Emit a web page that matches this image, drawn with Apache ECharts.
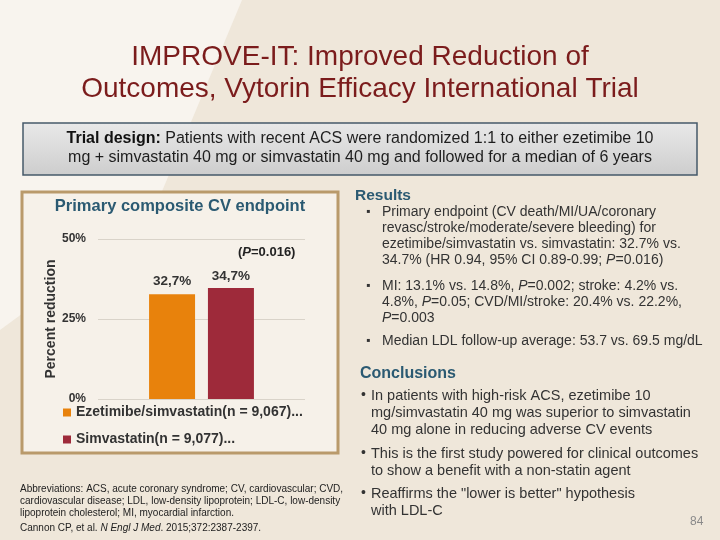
<!DOCTYPE html>
<html>
<head>
<meta charset="utf-8">
<script src="https://cdn.jsdelivr.net/npm/echarts@6/dist/echarts.min.js"></script>
<style>
html,body{margin:0;padding:0;background:#efe7da;}
#c{width:720px;height:540px;}
</style>
</head>
<body>
<div id="c"></div>
<script>
// ---- data ----
var categories = ['Primary composite CV endpoint'];
var seriesNames = ['Ezetimibe/simvastatin(n = 9,067)...', 'Simvastatin(n = 9,077)...'];
var ezetimibeValues = [32.7];
var simvastatinValues = [34.7];
var yTicks = [0, 25, 50];
var pValueText = '0.016';

var titleLines = 'IMPROVE-IT: Improved Reduction of\nOutcomes, Vytorin Efficacy International Trial';
var resultsBullets = [
  'Primary endpoint (CV death/MI/UA/coronary\nrevasc/stroke/moderate/severe bleeding) for\nezetimibe/simvastatin vs. simvastatin: 32.7% vs.\n34.7% (HR 0.94, 95% CI 0.89-0.99; {i|P}=0.016)',
  'MI: 13.1% vs. 14.8%, {i|P}=0.002; stroke: 4.2% vs.\n4.8%, {i|P}=0.05; CVD/MI/stroke: 20.4% vs. 22.2%,\n{i|P}=0.003',
  'Median LDL follow-up average: 53.7 vs. 69.5 mg/dL'
];
var conclusionBullets = [
  'In patients with high-risk ACS, ezetimibe 10\nmg/simvastatin 40 mg was superior to simvastatin\n40 mg alone in reducing adverse CV events',
  'This is the first study powered for clinical outcomes\nto show a benefit with a non-statin agent',
  'Reaffirms the "lower is better" hypothesis\nwith LDL-C'
];

var FONT = '"Liberation Sans", Arial, sans-serif';
var chart = echarts.init(document.getElementById('c'));

var graphics = [
  // background
  {type:'rect', z:-10, silent:true, shape:{x:0,y:0,width:720,height:540}, style:{fill:'#efe7da'}},
  {type:'polygon', z:-9, silent:true, shape:{points:[[0,0],[242,0],[150,220],[0,330]]}, style:{fill:'#f8f4ee'}},
  // title
  {type:'text', left:'center', top:41, style:{text:titleLines, font:'28px '+FONT, fill:'#7b1c1c', textAlign:'center', lineHeight:32}},
  // trial design box
  {type:'rect', z:-5, shape:{x:23,y:123,width:674,height:52}, style:{fill:new echarts.graphic.LinearGradient(0,0,0,1,[{offset:0,color:'#e9e9e9'},{offset:1,color:'#cdcdcd'}]), stroke:'#46596a', lineWidth:1.5}},
  {type:'text', x:360, y:129, style:{
    text:'{b|Trial design:} Patients with recent ACS were randomized 1:1 to either ezetimibe 10\nmg + simvastatin 40 mg or simvastatin 40 mg and followed for a median of 6 years',
    font:'16px '+FONT, fill:'#1e1e1e', align:'center', lineHeight:19,
    rich:{b:{fontWeight:'bold', fontSize:16, fontFamily:FONT, fill:'#111'}}
  }},
  // chart frame
  {type:'rect', z:-4, shape:{x:22,y:192,width:316,height:261}, style:{fill:'#f6f1e9', stroke:'#b99a6b', lineWidth:3}},
  {type:'text', x:180, y:198, style:{text:categories[0], font:'bold 16.5px '+FONT, fill:'#2b5a72', align:'center'}},
  {type:'text', x:238, y:246, style:{text:'({i|P}='+pValueText+')', font:'bold 13px '+FONT, fill:'#222', rich:{i:{fontStyle:'italic', fontWeight:'bold', fontSize:13, fontFamily:FONT, fill:'#222'}}}},
  // results
  {type:'text', x:355, y:188, style:{text:'Results', font:'bold 15.5px '+FONT, fill:'#2b5a72'}},
  // conclusions
  {type:'text', x:360, y:366, style:{text:'Conclusions', font:'bold 16px '+FONT, fill:'#2b5a72'}},
  // abbreviations
  {type:'text', x:20, y:483, style:{text:'Abbreviations: ACS, acute coronary syndrome; CV, cardiovascular; CVD,\ncardiovascular disease; LDL, low-density lipoprotein; LDL-C, low-density\nlipoprotein cholesterol; MI, myocardial infarction.', font:'10px '+FONT, fill:'#222', lineHeight:12}},
  {type:'text', x:20, y:523, style:{text:'Cannon CP, et al. {i|N Engl J Med}. 2015;372:2387-2397.', font:'10px '+FONT, fill:'#222', rich:{i:{fontStyle:'italic', fontSize:10, fontFamily:FONT, fill:'#222'}}}},
  // page number
  {type:'text', x:690, y:516, style:{text:'84', font:'12px '+FONT, fill:'#8a8a8a'}}
];

var richI = {i:{fontStyle:'italic', fontSize:14, fontFamily:FONT, fill:'#333', lineHeight:16}};
var ry = [204, 278, 333];
resultsBullets.forEach(function(t, k){
  graphics.push({type:'text', x:366, y:ry[k], style:{text:'\u25AA', font:'12px '+FONT, fill:'#333', lineHeight:16}});
  graphics.push({type:'text', x:382, y:ry[k], style:{text:t, font:'14px '+FONT, fill:'#333', lineHeight:16, rich:richI}});
});
var cy = [386, 444, 484];
conclusionBullets.forEach(function(t, k){
  graphics.push({type:'text', x:361, y:cy[k]+1, style:{text:'\u2022', font:'14px '+FONT, fill:'#333', lineHeight:17}});
  graphics.push({type:'text', x:371, y:cy[k]+1, style:{text:t, font:'14.5px '+FONT, fill:'#333', lineHeight:17}});
});

function fmt(p){ return String(p.value).replace('.', ',') + '%'; }

chart.setOption({
  backgroundColor:'transparent',
  animation:false,
  textStyle:{fontFamily:FONT},
  graphic:graphics,
  grid:{left:98, right:415, top:239, bottom:141},
  legend:{
    orient:'vertical', left:58, top:400, itemWidth:8, itemHeight:8, itemGap:12, icon:'rect',
    itemStyle:{borderWidth:0},
    textStyle:{fontWeight:'bold', fontSize:14, color:'#333', lineHeight:15, fontFamily:FONT},
    data:seriesNames
  },
  xAxis:{type:'category', data:categories, axisLine:{show:false}, axisTick:{show:false}, axisLabel:{show:false}},
  yAxis:{
    type:'value', min:yTicks[0], max:yTicks[yTicks.length-1], interval:yTicks[1]-yTicks[0],
    name:'Percent reduction', nameLocation:'middle', nameGap:40,
    nameTextStyle:{fontWeight:'bold', fontSize:14, color:'#333', fontFamily:FONT},
    axisLine:{show:false}, axisTick:{show:false},
    axisLabel:{formatter:'{value}%', fontWeight:'bold', fontSize:12, color:'#333', margin:12, fontFamily:FONT},
    splitLine:{lineStyle:{color:'#d9d3c9', width:1}}
  },
  series:[
    {name:seriesNames[0], type:'bar', data:ezetimibeValues, barWidth:46, barGap:'28%', itemStyle:{color:'#e8820c'},
     label:{show:true, position:'top', distance:6, formatter:fmt, fontWeight:'bold', fontSize:13.5, color:'#333', fontFamily:FONT}},
    {name:seriesNames[1], type:'bar', data:simvastatinValues, barWidth:46, itemStyle:{color:'#9e2a3a'},
     label:{show:true, position:'top', distance:5, formatter:fmt, fontWeight:'bold', fontSize:13.5, color:'#333', fontFamily:FONT}}
  ]
});
</script>
</body>
</html>
